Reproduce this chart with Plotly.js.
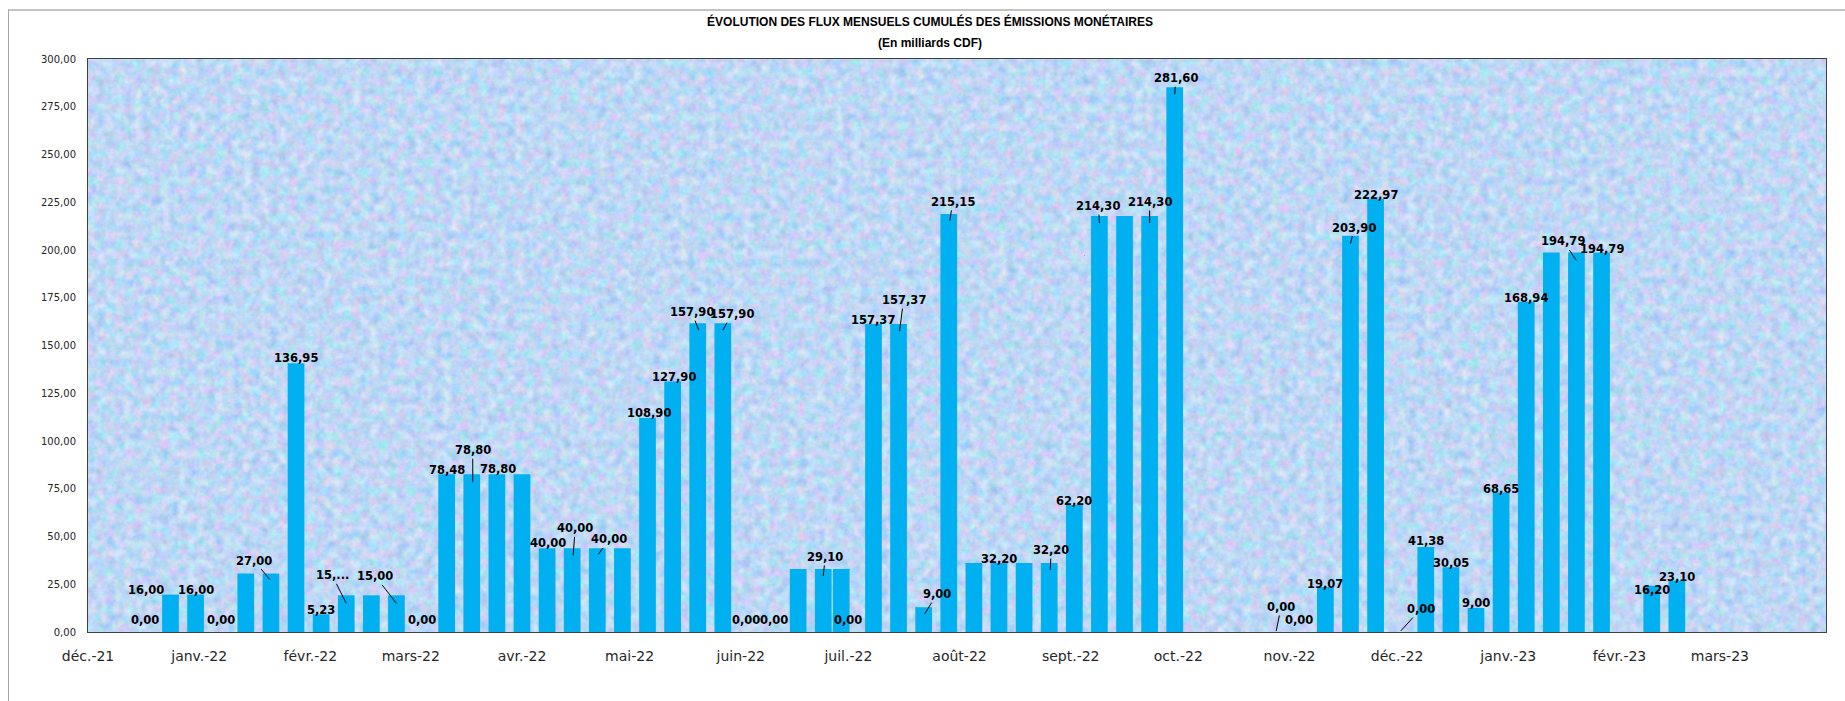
<!DOCTYPE html>
<html>
<head>
<meta charset="utf-8">
<script src="https://cdn.plot.ly/plotly-3.0.1.min.js"></script>
<style>
  html, body { margin: 0; padding: 0; background: #ffffff; }
  #wrap { position: relative; width: 1845px; height: 701px; overflow: hidden; }
  #chart { position: absolute; left: 0; top: 0; width: 1845px; height: 701px; }
  #frame { position: absolute; left: 8px; top: 9px; width: 1900px; height: 800px;
           border-left: 1px solid #a6a6a6; border-top: 2px solid #c3c3c3; pointer-events: none; }
</style>
</head>
<body>
<div id="wrap"><div id="chart"></div><div id="frame"></div></div>
<script>
// ---------- DATA ----------
const barDates = [
  '2021-12-17','2021-12-24','2021-12-31',
  '2022-01-07','2022-01-14','2022-01-21','2022-01-28',
  '2022-02-04','2022-02-11','2022-02-18','2022-02-25',
  '2022-03-04','2022-03-11','2022-03-18','2022-03-25',
  '2022-04-01','2022-04-08','2022-04-15','2022-04-22','2022-04-29',
  '2022-05-06','2022-05-13','2022-05-20','2022-05-27',
  '2022-06-03','2022-06-10','2022-06-17','2022-06-24','2022-06-29',
  '2022-07-01','2022-07-08','2022-07-15','2022-07-22','2022-07-29',
  '2022-08-05','2022-08-12','2022-08-19','2022-08-26',
  '2022-09-02','2022-09-09','2022-09-16','2022-09-23','2022-09-30',
  '2022-10-07','2022-10-14','2022-10-21','2022-10-28',
  '2022-11-04','2022-11-11','2022-11-18','2022-11-25',
  '2022-12-02','2022-12-09','2022-12-16','2022-12-23','2022-12-30',
  '2023-01-06','2023-01-13','2023-01-20','2023-01-27',
  '2023-02-03','2023-02-10','2023-02-17'
];
const barValues = [
  0, 19.6, 19.6,
  0, 30.6, 30.6, 140.7,
  9.3, 19.2, 19.2, 19.2,
  0, 82.6, 82.6, 82.6,
  82.6, 43.8, 43.8, 43.8, 43.8,
  112.1, 131.1, 161.7, 161.7,
  0, 0, 33.0, 33.0, 33.0,
  0, 161.2, 161.2, 13.0, 218.9,
  36.1, 36.1, 36.1, 36.1,
  66.5, 217.8, 217.8, 217.8, 285.2,
  null, null, null, 0,
  0, 23.6, 207.5, 226.7,
  0, 44.5, 33.9, 12.6, 73.1,
  172.9, 198.7, 198.7, 198.7,
  null, 24.2, 26.9
];
const labelTexts = [
  '0,00', '16,00', '16,00',
  '0,00', null, '27,00', '136,95',
  '5,23', '15,...', null, '15,00',
  '0,00', '78,48', '78,80', '78,80',
  null, '40,00', '40,00', '40,00', null,
  '108,90', '127,90', '157,90', '157,90',
  '0,00', '0,00', null, '29,10', null,
  '0,00', '157,37', '157,37', '9,00', '215,15',
  null, '32,20', null, '32,20',
  '62,20', '214,30', null, '214,30', '281,60',
  null, null, null, '0,00',
  '0,00', '19,07', '203,90', '222,97',
  '0,00', '41,38', '30,05', '9,00', '68,65',
  '168,94', null, '194,79', '194,79',
  null, '16,20', '23,10'
];
const monthTicks = [
  '2021-12-01','2022-01-01','2022-02-01','2022-03-01','2022-04-01','2022-05-01',
  '2022-06-01','2022-07-01','2022-08-01','2022-09-01','2022-10-01','2022-11-01',
  '2022-12-01','2023-01-01','2023-02-01','2023-03-01'
];
const monthLabels = [
  'déc.-21','janv.-22','févr.-22','mars-22','avr.-22','mai-22',
  'juin-22','juil.-22','août-22','sept.-22','oct.-22','nov.-22',
  'déc.-22','janv.-23','févr.-23','mars-23'
];
const titleText = 'ÉVOLUTION DES FLUX MENSUELS CUMULÉS DES ÉMISSIONS MONÉTAIRES';
const subtitleText = '(En milliards CDF)';

// ---------- LABEL PLACEMENT (style, pixels) ----------
// {dx,dy}: plain label offset from bar top; {ex,ey,ax,ay}: leader-line label
const labelPlacement = [
  {dx:0,dy:12}, {dx:-24,dy:5}, {dx:0,dy:5},
  {dx:0,dy:12}, null, {ex:-1,ey:-6,ax:-16,ay:-19}, {dx:0,dy:5},
  {dx:0,dy:4}, {ex:0,ey:-8,ax:-14,ay:-28}, null, {ex:0,ey:-8,ax:-21,ay:-27},
  {dx:0,dy:12}, {dx:0,dy:4}, {ex:1,ey:-8,ax:0,ay:-32}, {dx:1,dy:5},
  null, {dx:1,dy:5}, {ex:1,ey:-7,ax:2,ay:-27}, {ex:1,ey:-6,ax:11,ay:-15}, null,
  {dx:1,dy:5}, {dx:1,dy:5}, {ex:1,ey:-7,ax:-7,ay:-18}, {ex:0,ey:-7,ax:9,ay:-16},
  {dx:-2,dy:12}, {dx:1,dy:12}, null, {ex:0,ey:-7,ax:2,ay:-19}, null,
  {dx:0,dy:12}, {dx:0,dy:4}, {ex:1,ey:-7,ax:4,ay:-31}, {ex:1,ey:-7,ax:12,ay:-20}, {ex:1,ey:-7,ax:3,ay:-19},
  null, {dx:0,dy:4}, null, {ex:1,ey:-7,ax:1,ay:-20},
  {dx:0,dy:4}, {ex:0,ey:-7,ax:-1,ay:-17}, null, {ex:0,ey:-7,ax:0,ay:-21}, {ex:0,ey:-7,ax:1,ay:-16},
  null, null, null, {ex:1,ey:1,ax:5,ay:-24},
  {dx:-1,dy:12}, {dx:0,dy:3}, {ex:0,ey:-8,ax:4,ay:-16}, {dx:0,dy:4},
  {ex:0,ey:1,ax:20,ay:-22}, {dx:0,dy:6}, {dx:0,dy:4}, {dx:0,dy:5}, {dx:0,dy:3},
  {dx:0,dy:4}, null, {ex:0,ey:-8,ax:-13,ay:-19}, {dx:0,dy:3},
  null, {dx:0,dy:-4}, {dx:0,dy:4}
];

// ---------- STYLE ----------
const DAY = 86400000;
const barWidthMs = 4.66 * DAY;
const labelFont = {family: 'DejaVu Sans', size: 11.5, color: '#000000', weight: 'bold'};

const annotations = [];
barDates.forEach((d, i) => {
  const t = labelTexts[i];
  if (t == null) return;
  const p = labelPlacement[i];
  const a = {x: d, y: barValues[i] || 0, xref: 'x', yref: 'y', text: t, font: labelFont};
  if (p.ax !== undefined) {
    Object.assign(a, {showarrow: true, arrowhead: 0, arrowwidth: 1, arrowcolor: '#000000',
      standoff: 0, startstandoff: 0, xshift: p.ex, yshift: p.ey, ax: p.ax, ay: p.ay});
  } else {
    Object.assign(a, {showarrow: false, xshift: p.dx, yshift: p.dy});
  }
  annotations.push(a);
});
annotations.push({
  text: subtitleText, xref: 'paper', yref: 'paper', x: (930 - 88) / 1738, y: (632 - 43.5) / 573,
  showarrow: false, xanchor: 'center', yanchor: 'middle',
  font: {family: 'Liberation Sans', size: 12, color: '#000000', weight: 'bold'}
});

// plot-area marble texture (decorative, soft and low-contrast)
const texSvg = '<svg xmlns="http://www.w3.org/2000/svg" width="1738" height="573">' +
  '<filter id="n" x="0" y="0" width="100%" height="100%" color-interpolation-filters="sRGB">' +
  '<feTurbulence type="fractalNoise" baseFrequency="0.11" numOctaves="4" seed="7" stitchTiles="stitch"/>' +
  '<feColorMatrix type="matrix" values="0.45 0 0 0 0.52  0 0.25 0 0 0.72  0 0 0.15 0 0.885  0 0 0 0 1"/>' +
  '</filter><rect width="1738" height="573" filter="url(#n)"/></svg>';

const trace = {
  type: 'bar', x: barDates, y: barValues, width: barWidthMs,
  marker: {color: '#00b0f0', line: {width: 0}}, hoverinfo: 'skip'
};

const layout = {
  width: 1845, height: 701,
  margin: {l: 88, r: 19, t: 59, b: 69, pad: 0},
  paper_bgcolor: '#ffffff', plot_bgcolor: 'rgba(0,0,0,0)',
  separators: ', ',
  showlegend: false,
  title: {
    text: titleText, xref: 'container', yref: 'container',
    x: 930 / 1845, xanchor: 'center', y: 1 - 22 / 701, yanchor: 'middle',
    font: {family: 'Liberation Sans', size: 12, color: '#000000', weight: 'bold'}
  },
  xaxis: {
    type: 'date', range: ['2021-12-01', '2023-03-30 14:00'],
    tickmode: 'array', tickvals: monthTicks, ticktext: monthLabels,
    ticks: '', showgrid: false, zeroline: false,
    showline: true, mirror: true, linecolor: '#404040', linewidth: 1,
    tickfont: {family: 'DejaVu Sans', size: 14, color: '#262626'},
    ticklabelstandoff: 11
  },
  yaxis: {
    range: [0, 300], tick0: 0, dtick: 25, tickformat: '.2f',
    ticks: '', showgrid: false, zeroline: false,
    showline: true, mirror: true, linecolor: '#404040', linewidth: 1,
    tickfont: {family: 'DejaVu Sans', size: 10, color: '#262626'},
    ticklabelstandoff: 9
  },
  images: [{
    source: 'data:image/svg+xml;charset=utf-8,' + encodeURIComponent(texSvg),
    xref: 'paper', yref: 'paper', x: 0, y: 1, sizex: 1, sizey: 1,
    xanchor: 'left', yanchor: 'top', sizing: 'stretch', layer: 'below'
  }],
  annotations: annotations
};

Plotly.newPlot('chart', [trace], layout, {staticPlot: true, displayModeBar: false});
</script>
</body>
</html>
